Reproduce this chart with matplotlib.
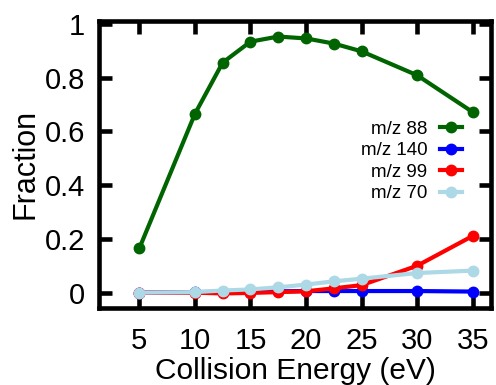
import numpy as np
import matplotlib
matplotlib.use('Agg')
import matplotlib.pyplot as plt
from matplotlib.ticker import FormatStrFormatter

plt.rcParams['font.family'] = ['Liberation Sans', 'DejaVu Sans']

# collision energies (eV)
energy = [5, 10, 12.5, 15, 17.5, 20, 22.5, 25, 30, 35]
mz88 = [0.165, 0.665, 0.856, 0.934, 0.953, 0.946, 0.927, 0.898, 0.809, 0.672]
mz140 = [0.0, 0.002, 0.003, 0.004, 0.005, 0.006, 0.006, 0.006, 0.006, 0.004]
mz99 = [0.0, 0.0, -0.003, -0.001, 0.002, 0.005, 0.016, 0.028, 0.1, 0.211]
mz70 = [0.0, 0.002, 0.008, 0.012, 0.02, 0.03, 0.042, 0.052, 0.073, 0.082]

labels = ['m/z 88', 'm/z 140', 'm/z 99', 'm/z 70']
colors = ['#006400', '#0000ff', '#ff0000', '#add8e6']
xticks = [5, 10, 15, 20, 25, 30, 35]
yticks = [0, 0.2, 0.4, 0.6, 0.8, 1]

fig = plt.figure(figsize=(4.96, 3.85), dpi=100)
ax = fig.add_axes([99/496, 1-307.7/385, (491-99)/496, (307.7-20.7)/385])

for y, lab, c in zip([mz88, mz140, mz99, mz70], labels, colors):
    ax.plot(energy, y, color=c, lw=3.0, marker='o', markersize=7.5, label=lab)

ax.set_xlim(1.37, 36.65)
ax.set_ylim(-0.056, 1.012)
ax.set_xticks(xticks)
ax.set_yticks(yticks)
ax.yaxis.set_major_formatter(FormatStrFormatter('%g'))

for s in ax.spines.values():
    s.set_linewidth(3.3)
ax.tick_params(direction='in', length=9, width=3.3, top=True, right=True,
               labelsize=21)
ax.tick_params(axis='x', pad=14)
ax.tick_params(axis='y', pad=10)

ax.set_xlabel('Collision Energy (eV)', fontsize=21.5, labelpad=1)
ax.set_ylabel('Fraction', fontsize=22, labelpad=3)

ax.legend(loc='upper right', bbox_to_anchor=(0.95, 0.685), frameon=False,
          markerfirst=False, fontsize=13.5, handlelength=1.2,
          handletextpad=0.65, labelspacing=0.24, borderpad=0)

fig.savefig('out.png', dpi=100)
